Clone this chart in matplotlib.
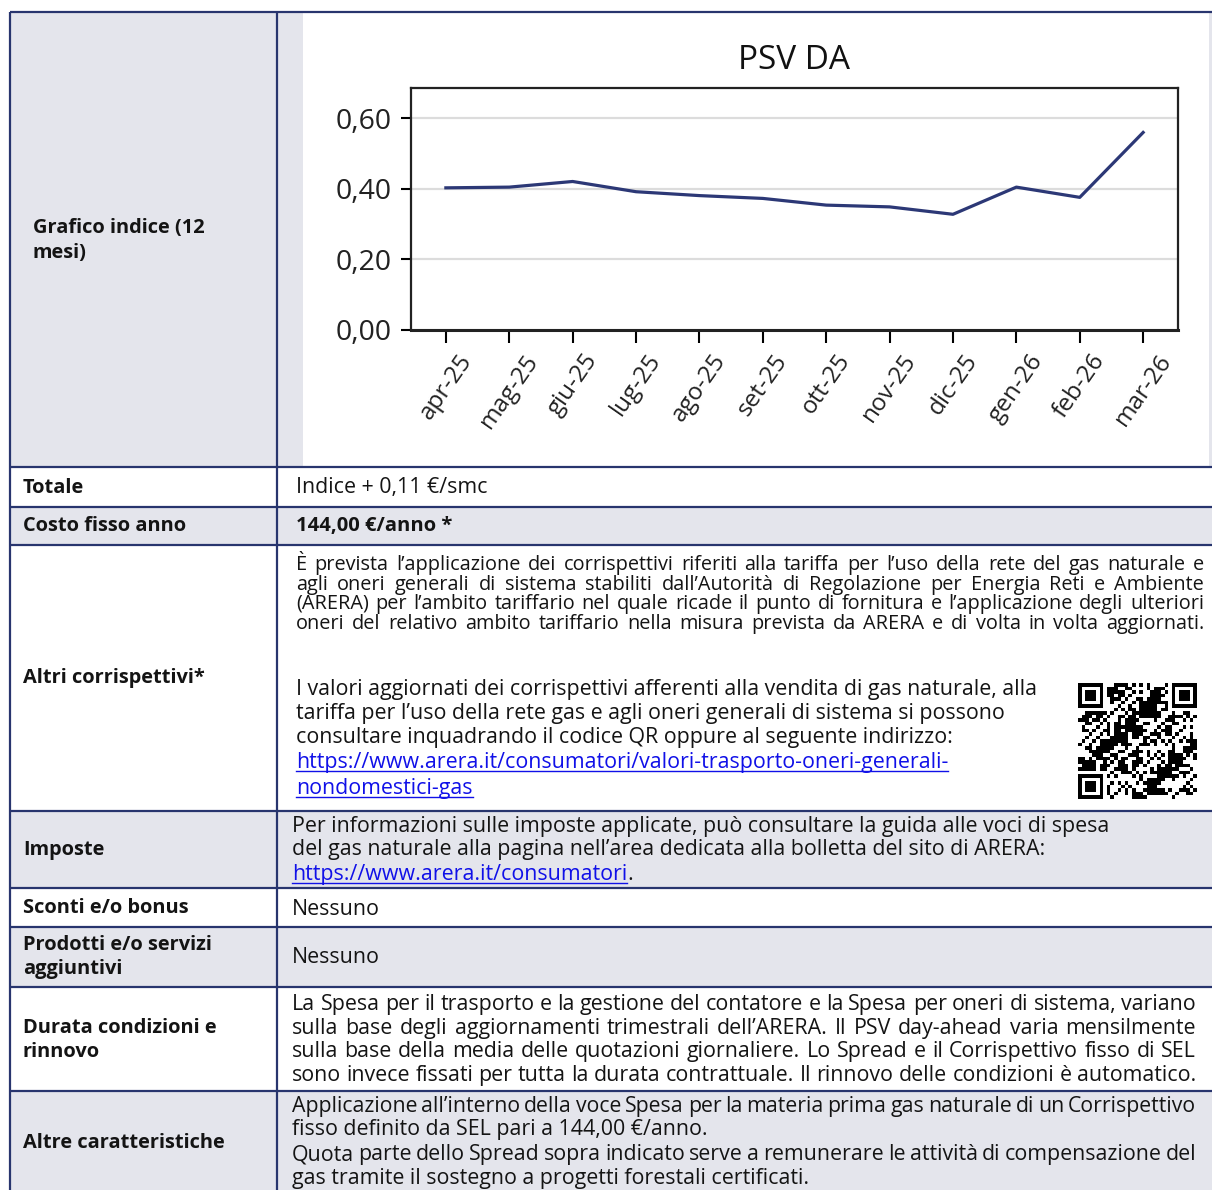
import numpy as np
import matplotlib
matplotlib.use('Agg')
import matplotlib.pyplot as plt

# chart data (PSV day-ahead, €/smc)
months = ['apr-25', 'mag-25', 'giu-25', 'lug-25', 'ago-25', 'set-25',
          'ott-25', 'nov-25', 'dic-25', 'gen-26', 'feb-26', 'mar-26']
psv = [0.403, 0.405, 0.421, 0.392, 0.381, 0.373,
       0.354, 0.349, 0.328, 0.405, 0.376, 0.560]
y_ticks = [0.0, 0.2, 0.4, 0.6]
y_tick_labels = ['0,00', '0,20', '0,40', '0,60']
chart_title = 'PSV DA'

# table rows: boundaries (px), shading
row_edges = [12, 467, 506.5, 545, 811, 888, 927, 987, 1091, 1200]
row_shaded = [False, False, True, False, True, False, True, False, True]

W, H = 1212, 1190
NAVY = '#28356e'
SHADE = '#e4e5ec'
LINK = '#1010e8'
INK = '#141414'
FONT = 'Open Sans'
BODY = 15.4
LABEL = 14.4

fig = plt.figure(figsize=(W / 100, H / 100), dpi=100)
bg = fig.add_axes([0, 0, 1, 1])
bg.set_xlim(0, W)
bg.set_ylim(H, 0)
bg.axis('off')
R = fig.canvas.get_renderer()

# cell backgrounds
for i in range(len(row_shaded)):
    y0, y1 = row_edges[i], row_edges[i + 1]
    if row_shaded[i]:
        bg.add_patch(plt.Rectangle((10, y0), W - 10, y1 - y0, color=SHADE, lw=0))
# first row: left cell shaded, strip before chart image
bg.add_patch(plt.Rectangle((10, 12), 267, 455, color=SHADE, lw=0))
bg.add_patch(plt.Rectangle((277, 12), 26, 455, color=SHADE, lw=0))
bg.add_patch(plt.Rectangle((1209, 12), 3, 455, color=SHADE, lw=0))

# grid lines of the table
for y in row_edges[:-1]:
    bg.plot([10, W], [y, y], color=NAVY, lw=1.6, solid_capstyle='butt')
for x in [10, 277]:
    bg.plot([x, x], [12, H], color=NAVY, lw=1.6, solid_capstyle='butt')


def put(x, y, s, bold=False, link=False, size=None):
    size = size or (LABEL if bold else BODY)
    t = bg.text(x, y + 6, s, fontsize=size, family=FONT,
                fontweight='bold' if bold else 'normal',
                color=LINK if link else INK, va='baseline', ha='left')
    if link:
        w = t.get_window_extent(R).width
        bg.plot([x, x + w], [y + 8.5, y + 8.5], color=LINK, lw=1)
    return t


def justify(x0, x1, y, s, size=BODY, min_gap=4.0):
    words = s.split(' ')
    ts = [bg.text(0, y + 6, w, fontsize=size, family=FONT, color=INK,
                  va='baseline', ha='left') for w in words]
    ws = [t.get_window_extent(R).width for t in ts]
    if sum(ws) + min_gap * (len(words) - 1) > x1 - x0:
        k = (x1 - x0 - min_gap * (len(words) - 1)) / sum(ws)
        for t in ts:
            t.set_fontsize(size * k)
        ws = [t.get_window_extent(R).width for t in ts]
    gap = (x1 - x0 - sum(ws)) / (len(words) - 1)
    x = x0
    for t, w in zip(ts, ws):
        t.set_x(x)
        x += w + gap


# left column labels
put(33, 227, 'Grafico indice (12', bold=True)
put(33, 252, 'mesi)', bold=True)
put(23, 487, 'Totale', bold=True)
put(23, 525, 'Costo fisso anno', bold=True)
put(23, 677, 'Altri corrispettivi*', bold=True)
put(23, 849, 'Imposte', bold=True)
put(23, 907, 'Sconti e/o bonus', bold=True)
put(23, 944, 'Prodotti e/o servizi', bold=True)
put(23, 968, 'aggiuntivi', bold=True)
put(23, 1027, 'Durata condizioni e', bold=True)
put(23, 1051, 'rinnovo', bold=True)
put(23, 1142, 'Altre caratteristiche', bold=True)

# right column
put(296, 487, 'Indice + 0,11 €/smc')
put(296, 525, '144,00 €/anno *', bold=True, size=14.5)

P1 = 14.3
justify(296, 1204, 564, 'È prevista l’applicazione dei corrispettivi riferiti alla tariffa per l’uso della rete del gas naturale e', P1, 3)
justify(296, 1204, 584, 'agli oneri generali di sistema stabiliti dall’Autorità di Regolazione per Energia Reti e Ambiente', P1, 3)
justify(296, 1204, 603, '(ARERA) per l’ambito tariffario nel quale ricade il punto di fornitura e l’applicazione degli ulteriori', P1, 3)
justify(296, 1204, 623, 'oneri del relativo ambito tariffario nella misura prevista da ARERA e di volta in volta aggiornati.', P1, 3)
put(296, 689, 'I valori aggiornati dei corrispettivi afferenti alla vendita di gas naturale, alla')
put(296, 713, 'tariffa per l’uso della rete gas e agli oneri generali di sistema si possono')
put(296, 737, 'consultare inquadrando il codice QR oppure al seguente indirizzo:')
put(296, 762, 'https://www.arera.it/consumatori/valori-trasporto-oneri-generali-', link=True)
put(296, 788, 'nondomestici-gas', link=True)

# QR code (pattern derived from the url bytes)
url = 'https://www.arera.it/consumatori/valori-trasporto-oneri-generali-nondomestici-gas'
n = 33
bits = np.unpackbits(np.frombuffer((url * 2).encode(), dtype=np.uint8))[:n * n]
qr = bits.reshape(n, n).astype(float)
qr = np.logical_xor(qr, np.indices((n, n)).sum(0) % 3 == 0).astype(float)
for r0, c0 in [(0, 0), (0, n - 7), (n - 7, 0)]:
    qr[max(r0 - 1, 0):r0 + 8, max(c0 - 1, 0):c0 + 8] = 0
    qr[r0:r0 + 7, c0:c0 + 7] = 1
    qr[r0 + 1:r0 + 6, c0 + 1:c0 + 6] = 0
    qr[r0 + 2:r0 + 5, c0 + 2:c0 + 5] = 1
bg.imshow(qr, cmap='gray_r', extent=[1078, 1197, 799, 683],
          interpolation='nearest', aspect='auto', zorder=3)

put(292, 826, 'Per informazioni sulle imposte applicate, può consultare la guida alle voci di spesa')
put(292, 849, 'del gas naturale alla pagina nell’area dedicata alla bolletta del sito di ARERA:')
t = put(292, 874, 'https://www.arera.it/consumatori', link=True)
put(292 + t.get_window_extent(R).width, 874, '.')

put(292, 909, 'Nessuno')
put(292, 957, 'Nessuno')

justify(292, 1196, 1004, 'La Spesa per il trasporto e la gestione del contatore e la Spesa per oneri di sistema, variano')
justify(292, 1196, 1028, 'sulla base degli aggiornamenti trimestrali dell’ARERA. Il PSV day-ahead varia mensilmente')
justify(292, 1196, 1051, 'sulla base della media delle quotazioni giornaliere. Lo Spread e il Corrispettivo fisso di SEL')
justify(292, 1196, 1075, 'sono invece fissati per tutta la durata contrattuale. Il rinnovo delle condizioni è automatico.')

justify(292, 1196, 1106, 'Applicazione all’interno della voce Spesa per la materia prima gas naturale di un Corrispettivo')
put(292, 1129, 'fisso definito da SEL pari a 144,00 €/anno.')
justify(292, 1196, 1154, 'Quota parte dello Spread sopra indicato serve a remunerare le attività di compensazione del')
put(292, 1178, 'gas tramite il sostegno a progetti forestali certificati.')

# chart
ax = fig.add_axes([411 / W, 1 - 330 / H, (1178 - 411) / W, (330 - 88) / H])
ax.plot(range(len(months)), psv, color='#2c3876', lw=2.3)
ax.set_xlim(-0.55, len(months) - 0.45)
ax.set_ylim(0, 0.686)
ax.set_yticks(y_ticks, y_tick_labels)
ax.set_xticks(range(len(months)), months, rotation=55)
ax.yaxis.grid(True, color='#dcdcdc', lw=1.6)
ax.set_axisbelow(True)
for lab in ax.get_xticklabels() + ax.get_yticklabels():
    lab.set_family('Open Sans')
    lab.set_color('#222222')
for lab in ax.get_yticklabels():
    lab.set_fontsize(20.5)
for lab in ax.get_xticklabels():
    lab.set_fontsize(17.5)
ax.tick_params(axis='y', length=7, width=1.5, pad=7)
ax.tick_params(axis='x', length=9, width=1.5, pad=5)
for s in ax.spines.values():
    s.set_linewidth(1.6)
    s.set_color('#222222')
ax.spines['bottom'].set_linewidth(2.2)
ax.set_title(chart_title, family='Open Sans', fontsize=24, color='#111111', pad=14)

fig.savefig('out.png', dpi=100)
